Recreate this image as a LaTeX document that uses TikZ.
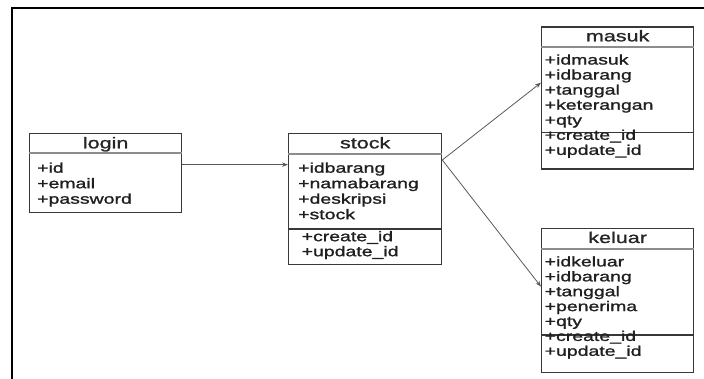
\documentclass[tikz,border=0pt]{standalone}
\usepackage{fontspec}
\setmainfont[FakeStretch=1.39, FakeBold=1.3]{Liberation Sans}
\usetikzlibrary{arrows.meta}

\tikzset{
  box/.style={draw=black!78, line width=1.3pt, anchor=north west, inner sep=0pt},
  title/.style={font=\fontsize{15.5}{18}\selectfont, text=black!85, anchor=base, inner sep=0pt},
  attr/.style={font=\fontsize{14}{16}\selectfont, text=black!88, anchor=base west, inner sep=0pt},
  headline/.style={draw=black!45, line width=1.2pt},
  partline/.style={draw=black!78, line width=1.3pt},
  link/.style={draw=black!65, line width=0.8pt, -{Stealth[length=6pt,width=4.5pt]}},
}

\begin{document}
\begin{tikzpicture}[x=1pt, y=-1pt]
  \useasboundingbox (0,0) rectangle (704,379);
  % frame, cut off on the right and at the bottom
  \draw[line width=2pt] (12,385) -- (12,8.3) -- (710,8.3);

  % login
  \node[box, minimum width=152pt, minimum height=79pt] (login) at (29,133) {};
  \node[title] (login-name) at ([yshift=-15.3pt]login.north) {login};
  \draw[headline] ([yshift=-20pt]login.north west) -- ([yshift=-20pt]login.north east);
  \foreach \t [count=\i] in {+id, +email, +password}
    \node[attr] (login-\i) at ([xshift=8pt, yshift={-24.2pt-15.5pt*\i}]login.north west) {\t};

  % stock
  \node[box, minimum width=153pt, minimum height=131pt] (stock) at (288,133) {};
  \node[title] (stock-name) at ([yshift=-15.3pt]stock.north) {stock};
  \draw[headline] ([yshift=-21pt]stock.north west) -- ([yshift=-21pt]stock.north east);
  \draw[partline] ([yshift=-96pt]stock.north west) -- ([yshift=-96pt]stock.north east);
  \foreach \t [count=\i] in {+idbarang, +namabarang, +deskripsi, +stock}
    \node[attr] (stock-\i) at ([xshift=10pt, yshift={-24.2pt-15.5pt*\i}]stock.north west) {\t};
  \foreach \t [count=\i] in {+create\_id, +update\_id}
    \node[attr] (stock-m\i) at ([xshift=13.5pt, yshift={-93.2pt-15pt*\i}]stock.north west) {\t};

  % masuk
  \node[box, minimum width=152pt, minimum height=142pt] (masuk) at (541,26.5) {};
  \node[title] (masuk-name) at ([yshift=-14.8pt]masuk.north) {masuk};
  \draw[headline] ([yshift=-20.5pt]masuk.north west) -- ([yshift=-20.5pt]masuk.north east);
  \draw[partline] ([yshift=-106pt]masuk.north west) -- ([yshift=-106pt]masuk.north east);
  \foreach \t [count=\i] in {+idmasuk, +idbarang, +tanggal, +keterangan, +qty, +create\_id, +update\_id}
    \node[attr] (masuk-\i) at ([xshift=3.5pt, yshift={-23pt-15.05pt*\i}]masuk.north west) {\t};

  % keluar
  \node[box, minimum width=152pt, minimum height=144pt] (keluar) at (541,228) {};
  \node[title] (keluar-name) at ([yshift=-15pt]keluar.north) {keluar};
  \draw[headline] ([yshift=-21pt]keluar.north west) -- ([yshift=-21pt]keluar.north east);
  \draw[partline] ([yshift=-107pt]keluar.north west) -- ([yshift=-107pt]keluar.north east);
  \foreach \t [count=\i] in {+idkeluar, +idbarang, +tanggal, +penerima, +qty, +create\_id, +update\_id}
    \node[attr] (keluar-\i) at ([xshift=3.5pt, yshift={-23.5pt-14.9pt*\i}]keluar.north west) {\t};

  % links
  \coordinate (fork) at ([yshift=-27pt]stock.north east);
  \draw[link] ([yshift=8.5pt]login.east) -- ([yshift=8.5pt]login.east -| stock.west);
  \draw[link] (fork) -- ([yshift=15.5pt]masuk.west);
  \draw[link] (fork) -- ([yshift=14pt]keluar.west);
\end{tikzpicture}
\end{document}
